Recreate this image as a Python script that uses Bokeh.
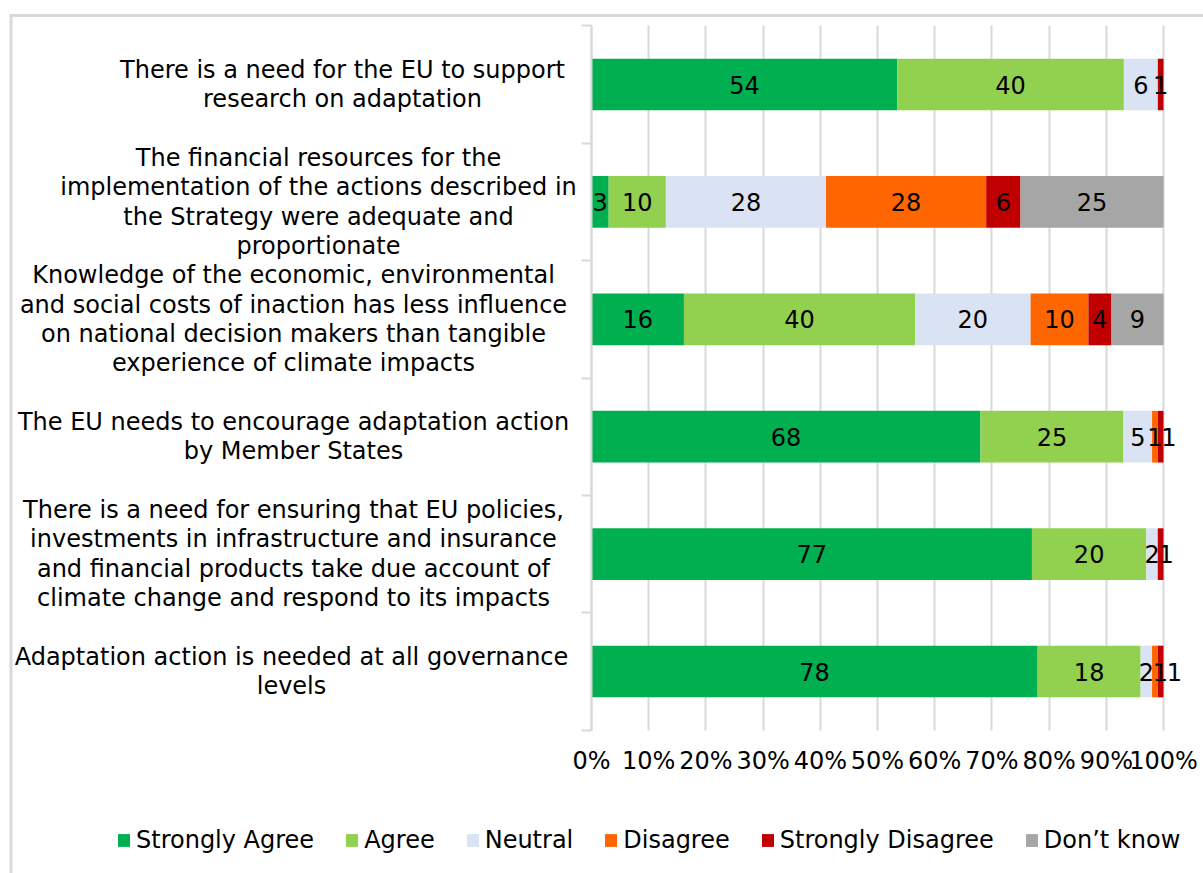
from bokeh.plotting import figure
from bokeh.models import Range1d, FixedTicker, Legend, LegendItem, Label, BoxAnnotation
from bokeh.core.properties import value
from bokeh.embed import file_html
from bokeh.resources import INLINE

# ---------------- data ----------------
statements = [
    "There is a need for the EU to support\nresearch on adaptation",
    "The financial resources for the\nimplementation of the actions described in\nthe Strategy were adequate and\nproportionate",
    "Knowledge of the economic, environmental\nand social costs of inaction has less influence\non national decision makers than tangible\nexperience of climate impacts",
    "The EU needs to encourage adaptation action\nby Member States",
    "There is a need for ensuring that EU policies,\ninvestments in infrastructure and insurance\nand financial products take due account of\nclimate change and respond to its impacts",
    "Adaptation action is needed at all governance\nlevels",
]
series_names = ["Strongly Agree", "Agree", "Neutral", "Disagree", "Strongly Disagree", "Don\u2019t know"]
strongly_agree = [54, 3, 16, 68, 77, 78]
agree = [40, 10, 40, 25, 20, 18]
neutral = [6, 28, 20, 5, 2, 2]
disagree = [0, 28, 10, 1, 0, 1]
strongly_disagree = [1, 6, 4, 1, 1, 1]
dont_know = [0, 25, 9, 0, 0, 0]
x_ticks = [0, 10, 20, 30, 40, 50, 60, 70, 80, 90, 100]
x_tick_labels = ["0%", "10%", "20%", "30%", "40%", "50%", "60%", "70%", "80%", "90%", "100%"]

# ---------------- layout / style ----------------
colors = ["#00B050", "#92D050", "#DAE3F3", "#FF6600", "#C00000", "#A6A6A6"]
FONT = "DejaVu Sans"
FS = "24px"
GRID = "#D9D9D9"

W, H = 1203, 873
ZERO_PX = 591            # canvas px of 0%
PX_PER_PCT = 5.72        # px per percentage point
X_MAX = (W - ZERO_PX) / PX_PER_PCT
x_min = -ZERO_PX / PX_PER_PCT
TOP_PX = 25.3            # canvas px of the top of the category band
ROW_PX = 117.4           # px per category row
n = len(statements)
y_top = -TOP_PX / ROW_PX
y_bottom = n + (H - TOP_PX - n * ROW_PX) / ROW_PX
# block centres (canvas px) of the wrapped category texts
label_cx = [342, 318, 293, 293, 293, 291]


def xpx(px):
    return (px - ZERO_PX) / PX_PER_PCT


def ypx(px):
    return (px - TOP_PX) / ROW_PX


p = figure(frame_width=W, frame_height=H,
           x_range=Range1d(x_min, X_MAX), y_range=Range1d(y_bottom, y_top),
           output_backend="svg", toolbar_location=None,
           min_border_left=0, min_border_right=0,
           min_border_top=0, min_border_bottom=0)
p.outline_line_color = None
p.background_fill_color = "white"
p.border_fill_color = "white"

all_series = [strongly_agree, agree, neutral, disagree, strongly_disagree, dont_know]
totals = [sum(s[i] for s in all_series) for i in range(n)]
ys = [i + 0.5 for i in range(n)]

lefts = [0.0] * n
renderers = []
lab_x, lab_y, lab_t = [], [], []
prev_x = [-1000.0] * n
gap = 14 / PX_PER_PCT
for name, vals, col in zip(series_names, all_series, colors):
    pct = [v / t * 100 for v, t in zip(vals, totals)]
    rights = [l + q for l, q in zip(lefts, pct)]
    r = p.hbar(y=ys, left=lefts, right=rights, height=0.44, fill_color=col, line_color=None)
    renderers.append(r)
    for i in range(n):
        if vals[i] > 0:
            cx = (lefts[i] + rights[i]) / 2
            x = max(cx, prev_x[i] + gap)
            prev_x[i] = x
            lab_x.append(x)
            lab_y.append(ys[i])
            lab_t.append(str(vals[i]))
    lefts = rights

p.text(x=lab_x, y=lab_y, text=lab_t, text_align="center", text_baseline="middle",
       text_font=value(FONT), text_font_size=value(FS), text_color="#000000")

# category labels
for i, s in enumerate(statements):
    p.add_layout(Label(x=xpx(label_cx[i]), y=ys[i], text=s,
                       text_align="center", text_baseline="middle",
                       text_font=FONT, text_font_size=FS, text_color="#000000",
                       text_line_height=1.05))

# grid lines only across the category band
grid = p.xgrid[0]
grid.ticker = FixedTicker(ticks=x_ticks)
grid.grid_line_color = GRID
grid.grid_line_width = 2
p.ygrid.grid_line_color = None
if "cross_bounds" in grid.properties():
    grid.cross_bounds = (0, n)
else:
    p.add_layout(BoxAnnotation(top=n, bottom=y_bottom + 1, left=x_min - 5,
                               right=X_MAX + 5, fill_color="white", fill_alpha=1,
                               line_color=None, level="underlay"))

# x axis (at the bottom of the category band)
xa = p.xaxis[0]
xa.fixed_location = n
xa.ticker = FixedTicker(ticks=x_ticks)
xa.major_label_overrides = {t: l for t, l in zip(x_ticks, x_tick_labels)}
xa.axis_line_color = None
xa.major_tick_line_color = None
xa.minor_tick_line_color = None
xa.major_tick_out = 0
xa.major_tick_in = 0
xa.major_label_standoff = 17
xa.major_label_text_font = FONT
xa.major_label_text_font_size = FS
xa.major_label_text_color = "#000000"

# y axis at 0% (category boundaries only)
ya = p.yaxis[0]
ya.fixed_location = 0
ya.bounds = (0, n)
ya.ticker = FixedTicker(ticks=[], minor_ticks=list(range(n + 1)))
ya.axis_line_color = GRID
ya.axis_line_width = 2
ya.major_tick_line_color = None
ya.major_label_text_font_size = "0px"
ya.minor_tick_out = 10
ya.minor_tick_in = 0
ya.minor_tick_line_color = GRID
ya.minor_tick_line_width = 2

# chart-area border: top and left edges (the original is cropped right/bottom)
p.add_layout(BoxAnnotation(left=xpx(9), right=X_MAX + 20, top=ypx(13.5), bottom=ypx(16.5),
                           fill_color=GRID, fill_alpha=1, line_color=None))
p.add_layout(BoxAnnotation(left=xpx(9), right=xpx(12), top=ypx(13.5), bottom=y_bottom + 1,
                           fill_color=GRID, fill_alpha=1, line_color=None))

legend = Legend(items=[LegendItem(label=nm, renderers=[r]) for nm, r in zip(series_names, renderers)],
                orientation="horizontal", location=(116, 19),
                glyph_width=15, glyph_height=16, label_standoff=5, spacing=30,
                padding=0, margin=0, border_line_color=None, background_fill_alpha=0,
                label_text_font=FONT, label_text_font_size=FS, label_text_color="#000000")
p.add_layout(legend)

open("out.html", "w").write(file_html(p, INLINE))
